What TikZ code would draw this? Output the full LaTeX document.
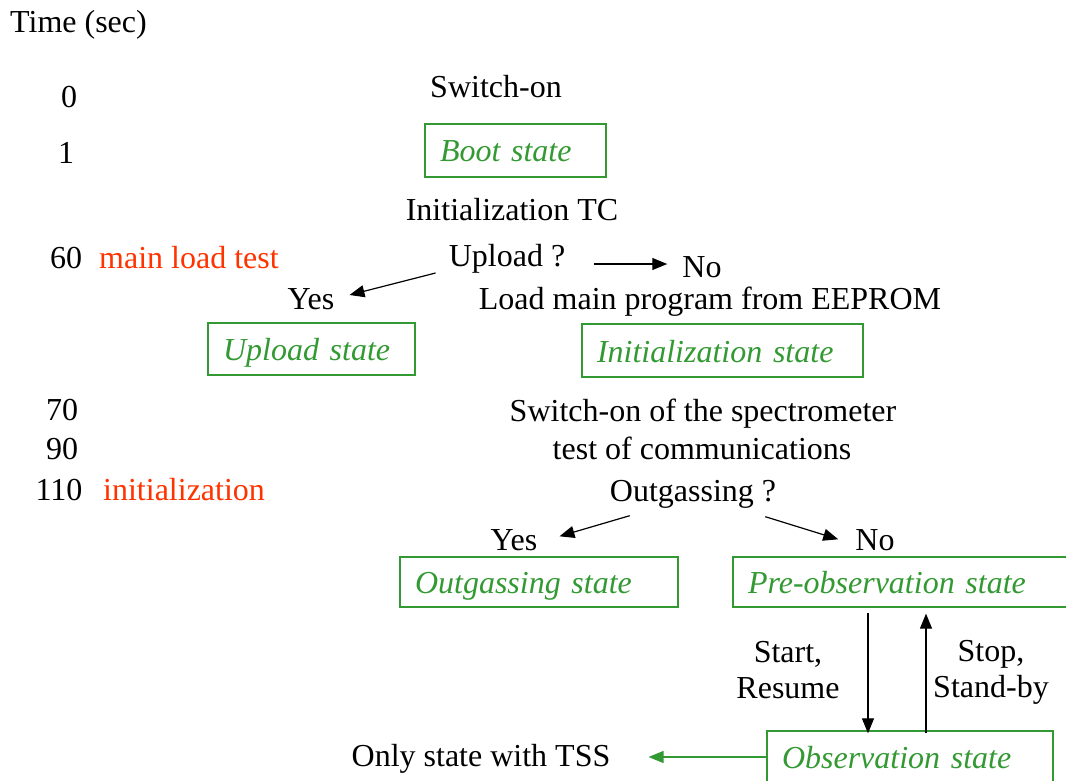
\documentclass[tikz,border=0pt]{standalone}
\usepackage{fontspec}
\setmainfont{Liberation Serif}
\usetikzlibrary{arrows.meta}
\definecolor{stgreen}{RGB}{51,153,51}
\definecolor{stred}{RGB}{255,51,0}
\begin{document}
\begin{tikzpicture}[x=1pt,y=-1pt,
  lbl/.style={inner sep=2pt, text height=22pt, text depth=7pt, font=\fontsize{32}{36}\selectfont},
  redlbl/.style={lbl, text=stred, anchor=west},
  stbox/.style={draw=stgreen, line width=1.3pt, text=stgreen, inner xsep=15pt, inner ysep=0pt,
    align=left, text height=26pt, text depth=3pt, font=\fontsize{32}{36}\selectfont\itshape},
  arr/.style={line width=1.2pt, -{Triangle[length=15pt,width=12pt]}},
  garr/.style={arr, draw=stgreen, fill=stgreen}]
\useasboundingbox (0,0) rectangle (1066,781);
\node[lbl, anchor=west] (time) at (8,25) {Time (sec)};
\node[lbl] (t0) at (69,100) {0};
\node[lbl] (t1) at (66,156) {1};
\node[lbl] (t60) at (66,261) {60};
\node[redlbl] (mainload) at (97,261) {main load test};
\node[lbl] (t70) at (62,413) {70};
\node[lbl] (t90) at (62,452) {90};
\node[lbl] (t110) at (59,493) {110};
\node[redlbl] (initred) at (101,493) {initialization};

\node[lbl] (switchon) at (496,90) {Switch-on};
\node[stbox, text width=151pt, minimum height=53pt] (bootst) at (515.5,150.5) {Boot state};
\node[lbl] (inittc) at (512,213) {Initialization TC};
\node[lbl] (upload) at (507,259) {Upload ?};
\node[lbl] (no1) at (702,270) {No};
\node[lbl] (yes1) at (311,302) {Yes};
\node[lbl] (loadmain) at (710,302) {Load main program from EEPROM};
\node[stbox, text width=177pt, minimum height=52pt] (uploadst) at (311.5,349) {Upload state};
\node[stbox, text width=251pt, minimum height=53pt] (initst) at (722.5,350.5) {Initialization state};
\node[lbl] (swspec) at (703,414) {Switch-on of the spectrometer};
\node[lbl] (testcom) at (702,452) {test of communications};
\node[lbl] (outgas) at (693,494) {Outgassing ?};
\node[lbl] (yes2) at (514,543) {Yes};
\node[lbl] (no2) at (875,543) {No};
\node[stbox, text width=248pt, minimum height=50pt] (outgasst) at (539,582) {Outgassing state};
\node[stbox, text width=305pt, minimum height=50pt] (preobs) at (900.5,582) {Pre-observation state};
\node[lbl, align=center, text height=, text depth=] (start) at (788,670) {Start,\\Resume};
\node[lbl, align=center, text height=, text depth=] (stop) at (991,672) {Stop,\\Stand-by};
\node[stbox, text width=256pt, minimum height=52pt] (obsst) at (910,757) {Observation state};
\node[lbl] (onlytss) at (481,759) {Only state with TSS};

\draw[arr] ([xshift=27pt,yshift=-5pt]upload.east) -- ([xshift=-13pt,yshift=6pt]no1.west);
\draw[arr] ([shift={(-11,14)}]upload.west) -- ([shift={(13,-7)}]yes1.east);
\draw[arr] ([shift={(22,5)}]outgas.south west) -- ([shift={(20,10)}]yes2.north east);
\draw[arr] ([shift={(-13,6)}]outgas.south east) -- ([shift={(-15,13)}]no2.north west);
\draw[arr] ([xshift=-32.5pt,yshift=-5pt]preobs.south) -- ([xshift=-42pt,yshift=-3pt]obsst.north);
\draw[arr] ([xshift=16pt,yshift=-3pt]obsst.north) -- ([xshift=25.5pt,yshift=-6pt]preobs.south);
\draw[garr, shorten >=36pt] (obsst.west) -- (obsst.west -| onlytss.east);
\end{tikzpicture}
\end{document}
